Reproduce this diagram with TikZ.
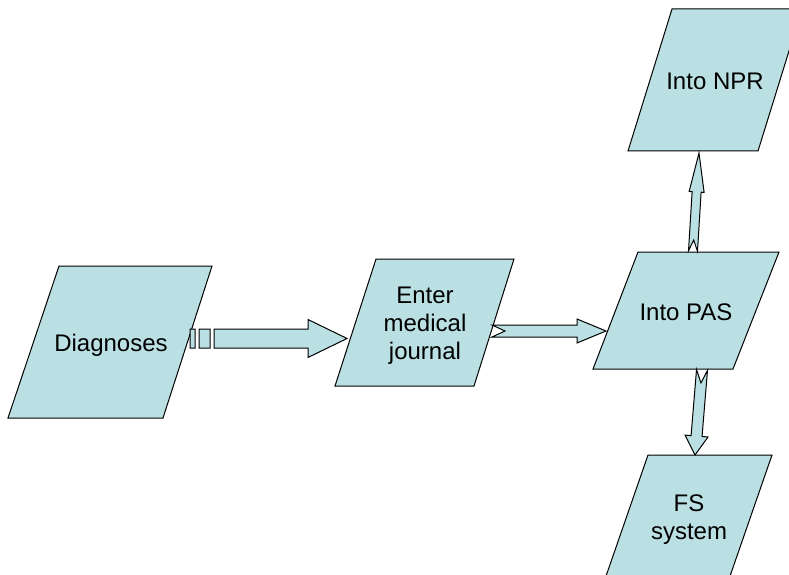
\documentclass[tikz,border=0pt]{standalone}
\usepackage{fontspec}
\setmainfont{Liberation Sans}
\usetikzlibrary{calc}

\definecolor{boxblue}{RGB}{187,224,227}

\tikzset{
  iobox/.style={draw=black, fill=boxblue, line width=1pt, line join=miter},
  blockarrow/.style={draw=black, fill=boxblue, line width=1pt, line join=miter},
  boxtext/.style={align=center, font=\fontsize{24}{28}\selectfont, inner sep=0pt}
}

% notched block arrow: from, to, shaft half width, head half width, head length, notch depth
\newcommand{\notcharrow}[6]{%
  \draw[blockarrow] let \p1=($(#2)-(#1)$), \n1={atan2(\y1,\x1)}, \n2={veclen(\x1,\y1)} in
    [shift={(#1)}, rotate=\n1]
    (0pt,#3pt) -- (\n2-#5pt,#3pt) -- (\n2-#5pt,#4pt) -- (\n2,0pt)
    -- (\n2-#5pt,-#4pt) -- (\n2-#5pt,-#3pt) -- (0pt,-#3pt) -- (#6pt,0pt) -- cycle;
}
% striped block arrow: from, to, shaft half width, head half width, head length
\newcommand{\stripearrow}[5]{%
  \draw[blockarrow] let \p1=($(#2)-(#1)$), \n1={atan2(\y1,\x1)}, \n2={veclen(\x1,\y1)} in
    [shift={(#1)}, rotate=\n1]
    (0pt,-#3pt) -- (5pt,-#3pt) -- (5pt,#3pt) -- (0pt,#3pt) -- cycle
    (9pt,-#3pt) -- (20pt,-#3pt) -- (20pt,#3pt) -- (9pt,#3pt) -- cycle
    (24pt,#3pt) -- (\n2-#5pt,#3pt) -- (\n2-#5pt,#4pt) -- (\n2,0pt)
    -- (\n2-#5pt,-#4pt) -- (\n2-#5pt,-#3pt) -- (24pt,-#3pt) -- cycle;
}

\begin{document}
\begin{tikzpicture}[x=1pt, y=1pt]
    \useasboundingbox (0,0) rectangle (789,574);
    \clip (0,0) rectangle (789,574);

    % Boxes
    \draw[iobox] (59,308) -- (212,308) -- (163,156) -- (8,156) -- cycle;
    \node[boxtext] (diag) at (111,229) {Diagnoses};

    \draw[iobox] (376,315) -- (514,315) -- (474,188) -- (335,188) -- cycle;
    \node[boxtext] (enter) at (425,248) {Enter\\medical\\journal};

    \draw[iobox] (638,322) -- (779,322) -- (733,205) -- (593,205) -- cycle;
    \node[boxtext] (pas) at (686,262) {Into PAS};

    \draw[iobox] (672,565) -- (802,565) -- (758,423) -- (628,423) -- cycle;
    \node[boxtext] (npr) at (715,493) {Into NPR};

    \draw[iobox] (648,119) -- (772,119) -- (729,-5) -- (605,-5) -- cycle;
    \node[boxtext] (fs) at (689,54) {FS\\system};

    % Arrow ends
    \coordinate (diag-out) at (190,235.5);
    \coordinate (enter-in) at (347,235.5);
    \coordinate (enter-out) at (492,243);
    \coordinate (pas-in) at (606,243);
    \coordinate (pas-top) at (693,323);
    \coordinate (npr-in) at (699,421);
    \coordinate (pas-bot) at (702,204);
    \coordinate (fs-in) at (695,119);

    % Arrows
    \stripearrow{diag-out}{enter-in}{9.5}{19}{39}
    \notcharrow{enter-out}{pas-in}{6}{12}{29}{13}
    \notcharrow{pas-top}{npr-in}{4.5}{7.5}{39}{11}
    \notcharrow{pas-bot}{fs-in}{5.5}{11.5}{19}{13}

\end{tikzpicture}
\end{document}
